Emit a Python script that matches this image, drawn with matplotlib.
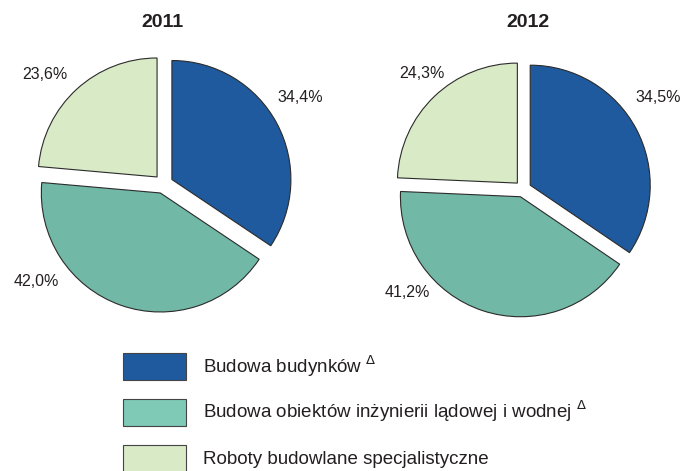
import matplotlib.pyplot as plt
from matplotlib.patches import Patch

plt.rcParams['font.family'] = ['Liberation Sans', 'DejaVu Sans']

years = ['2011', '2012']
categories = ['Budowa budynków', 'Budowa obiektów inżynierii lądowej i wodnej',
              'Roboty budowlane specjalistyczne']
shares_2011 = [34.4, 42.0, 23.6]
shares_2012 = [34.5, 41.2, 24.3]
footnote = [True, True, False]

pie_colors = ['#1f5a9e', '#72b8a6', '#d9eac6']
legend_colors = ['#1f5a9e', '#7ecab6', '#d9eac6']
text_color = '#231f20'

fig = plt.figure(figsize=(6.85, 4.71), dpi=100)
ax = fig.add_axes([0, 0, 1, 1])

# pie centres / radius in pixels, label offsets in radius units
layout = [
    dict(center=(163.5, 471 - 184), radius=119, explode=0.08,
         title=(-0.01, 1.36),
         labels=[(1.15, 0.73), (-1.07, -0.82), (-1.00, 0.92)]),
    dict(center=(523, 471 - 189), radius=120, explode=0.068,
         title=(0.04, 1.39),
         labels=[(1.13, 0.76), (-0.96, -0.86), (-0.84, 0.96)]),
]

for year, shares, lay in zip(years, [shares_2011, shares_2012], layout):
    cx, cy = lay['center']
    r = lay['radius']
    # explode is in data units, so scale by the radius
    ax.pie(shares, colors=pie_colors, startangle=90, counterclock=False,
           explode=[lay['explode'] * r] * len(shares), center=(cx, cy), radius=r,
           wedgeprops=dict(edgecolor='#2b2b2b', linewidth=0.8))
    tx, ty = lay['title']
    ax.text(cx + tx * r, cy + ty * r, year, ha='center', va='center',
            fontsize=14, fontweight='bold', color=text_color)
    for val, (lx, ly) in zip(shares, lay['labels']):
        ax.text(cx + lx * r, cy + ly * r, f'{val:.1f}%'.replace('.', ','),
                ha='center', va='center', fontsize=11.5, color=text_color)

ax.set_xlim(0, 685)
ax.set_ylim(0, 471)
ax.set_aspect('equal')
ax.axis('off')

handles = [Patch(facecolor=c, edgecolor='#444444', linewidth=0.8) for c in legend_colors]
names = [n + (r' $^{\Delta}$' if f else '') for n, f in zip(categories, footnote)]
fig.legend(handles, names, loc='upper left', bbox_to_anchor=(123 / 685, 1 - 353 / 471),
           frameon=False, fontsize=13.5, handlelength=3.36, handleheight=1.84,
           handletextpad=0.9, labelspacing=1.0, borderpad=0, borderaxespad=0,
           labelcolor=text_color)

fig.savefig('out.png', dpi=100)
